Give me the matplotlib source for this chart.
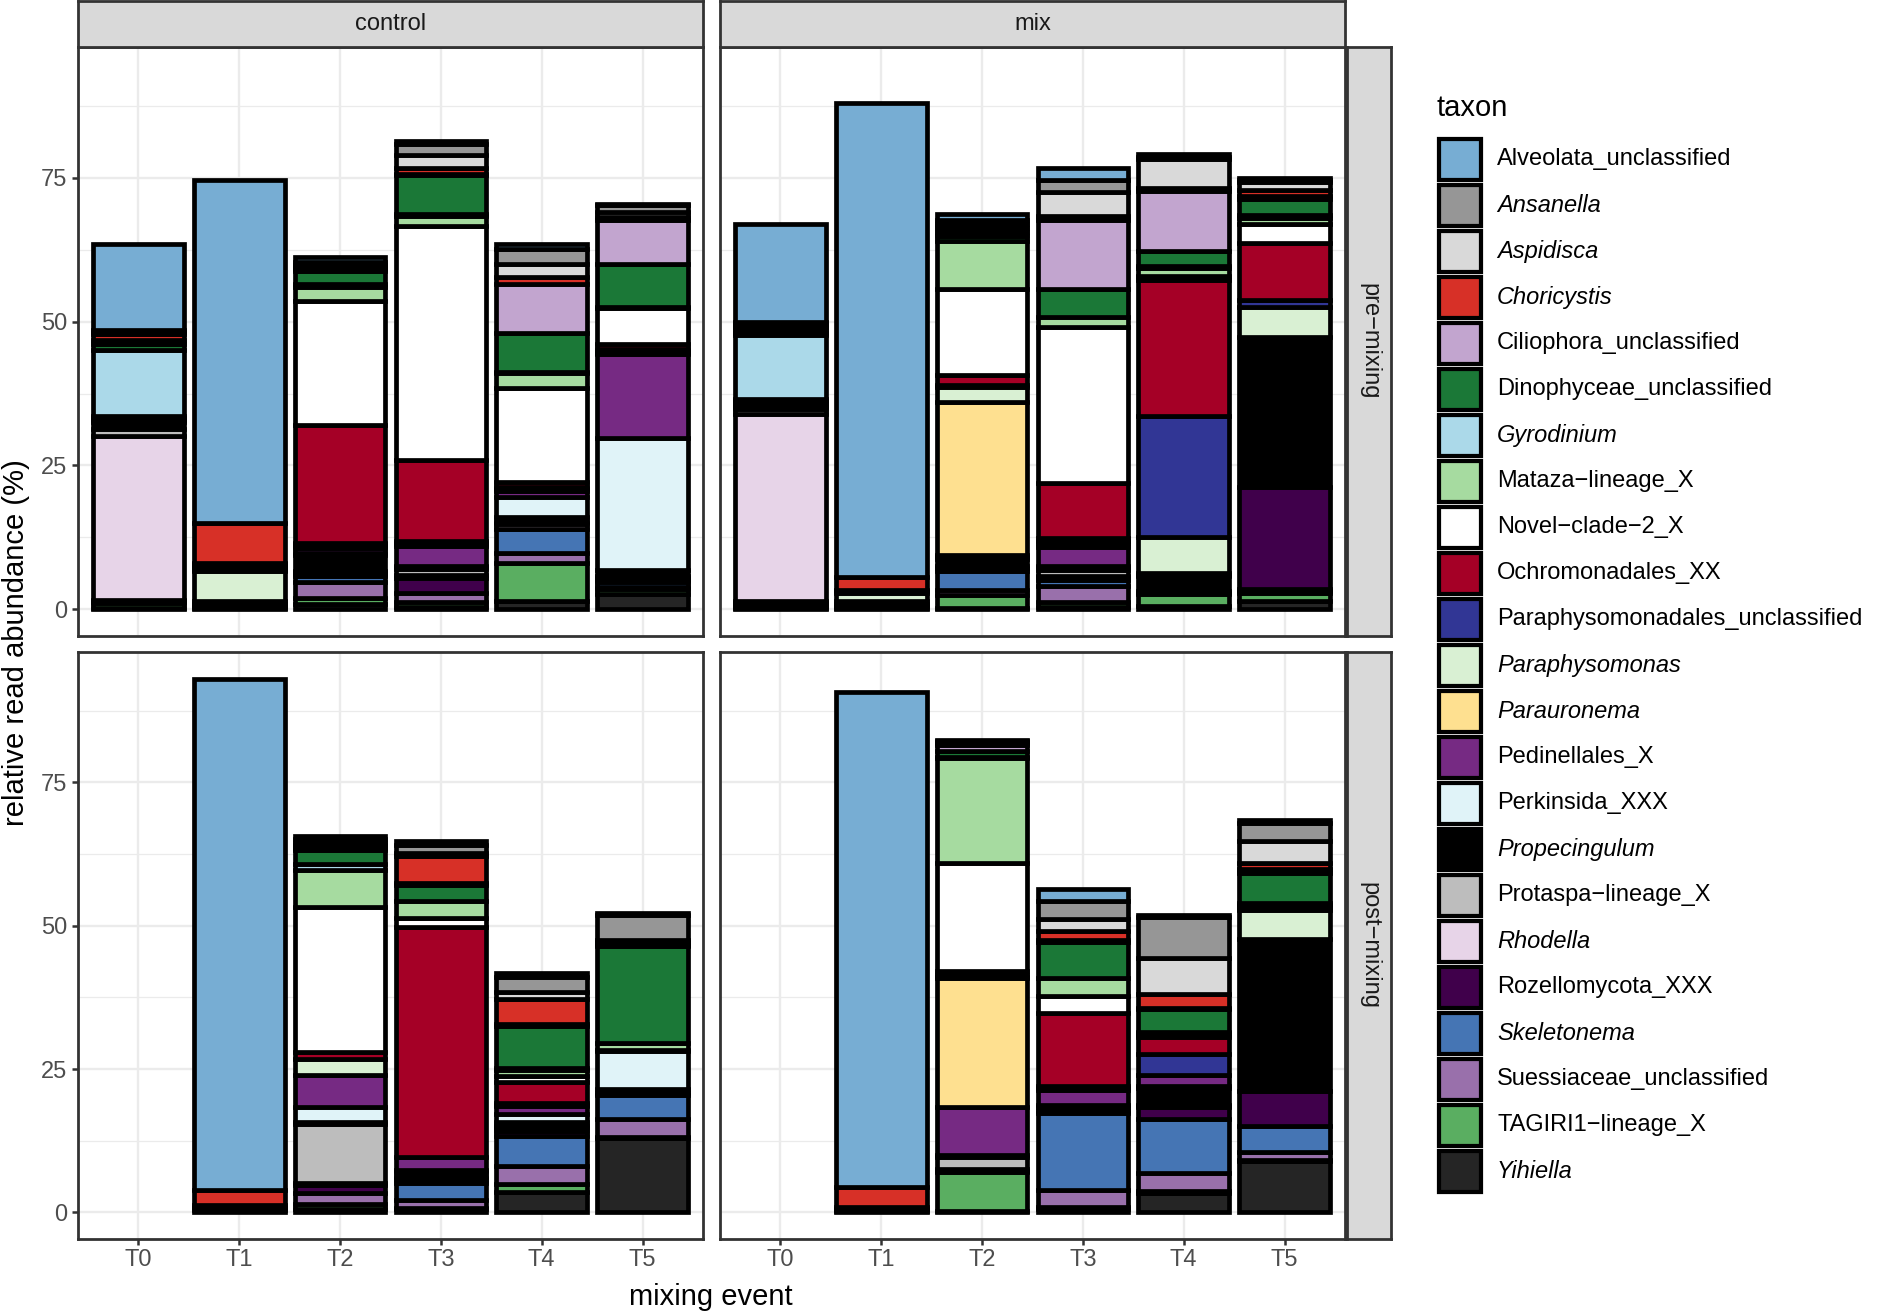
import numpy as np
import matplotlib
matplotlib.use('Agg')
import matplotlib.pyplot as plt
from matplotlib.patches import Rectangle

plt.rcParams['font.family'] = ['Liberation Sans', 'DejaVu Sans']

# categories
times = ['T0', 'T1', 'T2', 'T3', 'T4', 'T5']
treatments = ['control', 'mix']
phases = ['pre\u2212mixing', 'post\u2212mixing']

taxa = ['Alveolata_unclassified', 'Ansanella', 'Aspidisca', 'Choricystis',
        'Ciliophora_unclassified', 'Dinophyceae_unclassified', 'Gyrodinium',
        'Mataza\u2212lineage_X', 'Novel\u2212clade\u22122_X', 'Ochromonadales_XX',
        'Paraphysomonadales_unclassified', 'Paraphysomonas', 'Parauronema',
        'Pedinellales_X', 'Perkinsida_XXX', 'Propecingulum',
        'Protaspa\u2212lineage_X', 'Rhodella', 'Rozellomycota_XXX',
        'Skeletonema', 'Suessiaceae_unclassified', 'TAGIRI1\u2212lineage_X',
        'Yihiella']
italic_taxa = ['Ansanella', 'Aspidisca', 'Choricystis', 'Gyrodinium',
               'Paraphysomonas', 'Parauronema', 'Propecingulum', 'Rhodella',
               'Skeletonema', 'Yihiella']
colors = ['#77add3', '#969696', '#d9d9d9', '#d73027', '#c2a5cf', '#1b7837',
          '#abd9e9', '#a6dba0', '#ffffff', '#a50026', '#313695', '#d9f0d3',
          '#fee090', '#762a83', '#e0f3f8', '#000000', '#bdbdbd', '#e7d4e8',
          '#40004b', '#4575b4', '#9970ab', '#5aae61', '#252525']

# relative read abundance (%), one row per mixing event, columns in taxa order
ctrl_pre = [
    [15.0, 0.3, 0.3, 1.1, 0.6, 1.1, 11.5, 0.4, 0.3, 0.4, 0, 0, 0, 0, 0, 1.2, 1.2, 28.5, 0.2, 0.2, 0.1, 0.9, 0.2],
    [59.7, 0, 0, 6.9, 0.3, 0.3, 0, 0.3, 0.3, 0.3, 0, 5.2, 0, 0, 0, 0.5, 0, 0.3, 0.3, 0, 0, 0, 0.3],
    [1.0, 0.4, 0.4, 0.3, 0.4, 2.2, 0.6, 2.4, 21.5, 20.5, 0.3, 0.3, 0.3, 1.0, 0.3, 2.7, 0.3, 0.2, 0.4, 1.0, 2.8, 1.1, 0.9],
    [0.5, 2.0, 2.1, 1.2, 0.1, 6.8, 0.3, 1.7, 40.8, 14.0, 0.3, 0.3, 0.3, 3.4, 0.3, 0.3, 1.1, 0.4, 2.7, 0, 1.5, 0.9, 0.4],
    [0.9, 2.5, 2.3, 1.3, 8.4, 6.8, 0.3, 2.6, 16.2, 1.0, 0.3, 0.3, 0, 1.0, 3.6, 0.9, 0.3, 0.9, 0, 4.2, 1.7, 6.5, 1.5],
    [0.3, 1.2, 0.8, 0.6, 7.5, 7.5, 0, 0.3, 6.2, 0.9, 0.3, 0.3, 0.3, 14.5, 22.9, 1.2, 0.3, 0.3, 0.3, 0.9, 0.3, 0.9, 2.7],
]
mix_pre = [
    [16.9, 0.5, 0.5, 0.5, 0.5, 0.4, 11.0, 0.4, 0.4, 0.4, 0, 0.3, 0, 0, 0, 0.2, 1.0, 32.5, 0.3, 0.3, 0.3, 0.2, 0.3],
    [82.5, 0, 0, 2.2, 0.3, 0.3, 0, 0, 0, 0, 0, 1.4, 0, 0, 0, 0.5, 0, 0, 0.3, 0.3, 0, 0, 0.3],
    [1.0, 0.7, 0.7, 0.7, 0.7, 0.8, 0, 8.4, 14.9, 1.8, 0.3, 2.6, 26.6, 0.4, 0.3, 1.3, 0.3, 0, 0.6, 3.3, 0.9, 2.1, 0.3],
    [2.1, 2.1, 4.2, 0.7, 12.0, 4.9, 0, 1.7, 27.1, 9.7, 0.4, 0.4, 0.6, 3.3, 0.3, 0.5, 1.0, 0.2, 0.5, 1.0, 2.8, 0.9, 0.4],
    [0.4, 0.5, 5.0, 0.5, 10.4, 2.7, 0.3, 1.4, 0.6, 23.7, 21.1, 6.2, 0, 0.3, 0.3, 2.5, 0, 0, 0.3, 0, 0.3, 2.0, 0.6],
    [0.3, 0.4, 1.4, 1.1, 0.4, 2.9, 0.4, 1.2, 3.2, 9.9, 1.3, 5.2, 0, 0, 0, 26.1, 0, 0, 17.6, 0.4, 0.4, 1.4, 1.4],
]
ctrl_post = [
    [0] * 23,
    [89.2, 0, 0, 2.7, 0, 0, 0, 0, 0, 0, 0, 0, 0, 0, 0, 0.4, 0, 0, 0.4, 0, 0, 0, 0.4],
    [0.5, 0.6, 0.5, 0.5, 0.3, 2.5, 1.0, 6.5, 25.3, 1.2, 0, 2.7, 0, 5.6, 2.7, 0.3, 10.2, 0.4, 1.5, 0, 1.8, 1.0, 0.5],
    [0.6, 1.4, 0.6, 4.7, 0.3, 2.7, 0, 3.1, 1.6, 40.1, 0, 0, 0, 2.3, 0.3, 0.8, 0.3, 0, 0.8, 2.9, 1.4, 0.3, 0.5],
    [0.6, 2.7, 1.2, 4.4, 0.3, 7.4, 0.3, 1.0, 1.0, 3.7, 0.3, 0.3, 0, 1.3, 1.5, 0.6, 0.3, 0.7, 0.7, 5.4, 3.0, 1.5, 3.5],
    [0.3, 4.4, 0.4, 0.4, 0.3, 16.8, 0.1, 1.1, 0.3, 0, 0, 0, 0, 0, 6.6, 0.6, 0, 0, 0.4, 4.3, 3.0, 0.3, 12.9],
]
mix_post = [
    [0] * 23,
    [86.2, 0, 0, 3.5, 0, 0, 0, 0, 0, 0, 0, 0, 0, 0, 0, 0.4, 0, 0, 0.3, 0, 0, 0, 0.3],
    [0.2, 0.2, 0.2, 0.3, 1.0, 1.0, 0.3, 18.3, 18.8, 0.7, 0.3, 0.3, 22.5, 8.3, 0, 0.4, 2.1, 0, 0.3, 0, 0.2, 6.7, 0.3],
    [2.0, 3.2, 2.1, 1.6, 0.3, 6.4, 0, 3.1, 3.0, 12.7, 0.3, 0.3, 0, 2.7, 0.3, 0.8, 0, 0, 0.3, 13.4, 2.9, 0.5, 0.5],
    [0.3, 7.2, 6.2, 2.4, 0.3, 3.9, 0.3, 0.3, 0.3, 2.9, 3.8, 0, 0, 1.9, 0.3, 3.0, 0.2, 0.2, 2.1, 9.4, 3.0, 0.4, 3.4],
    [0.4, 3.2, 3.9, 1.0, 0.7, 5.2, 0.4, 0.4, 0.4, 0, 0, 5.1, 0, 0, 0, 26.6, 0, 0, 6.1, 4.4, 1.4, 0.3, 8.9],
]

W, H = 1892, 1312
fig = plt.figure(figsize=(W / 100, H / 100), dpi=100)


def box(x0, y0, x1, y1):
    # pixel box (top-left origin) -> figure fraction
    return [x0 / W, 1 - y1 / H, (x1 - x0) / W, (y1 - y0) / H]


col_x = [(78, 703), (720, 1345)]
row_y = [(47, 636), (652, 1239)]
panels = [[ctrl_pre, mix_pre], [ctrl_post, mix_post]]

ymax = max(max(sum(r) for r in p) for row in panels for p in row)
ylim = (-0.05 * ymax, 1.05 * ymax)
edge_lw = 3.4


def draw_bars(ax, data):
    data = np.array(data, dtype=float)
    x = np.arange(len(times))
    bottom = np.zeros(len(times))
    # first taxon ends up on top of the stack
    for k in range(len(taxa) - 1, -1, -1):
        vals = data[:, k]
        keep = vals > 0
        ax.bar(x[keep], vals[keep], bottom=bottom[keep], width=0.9,
               color=colors[k], edgecolor='black', linewidth=edge_lw)
        bottom += vals


for r in range(2):
    for c in range(2):
        ax = fig.add_axes(box(col_x[c][0], row_y[r][0], col_x[c][1], row_y[r][1]))
        draw_bars(ax, panels[r][c])
        ax.set_xlim(-0.6, len(times) - 0.4)
        ax.set_ylim(*ylim)
        ax.set_xticks(range(len(times)))
        ax.set_xticklabels(times)
        ax.set_yticks([0, 25, 50, 75])
        ax.set_yticks([12.5, 37.5, 62.5, 87.5], minor=True)
        ax.set_axisbelow(True)
        ax.grid(True, which='major', color='#ebebeb', linewidth=1.7)
        ax.grid(True, which='minor', axis='y', color='#ebebeb', linewidth=0.9)
        ax.tick_params(which='minor', length=0)
        ax.tick_params(which='major', length=4.5, width=1.8, color='#333333',
                       labelsize=17, labelcolor='#4d4d4d', pad=3)
        for s in ax.spines.values():
            s.set_color('#333333')
            s.set_linewidth(2.0)
        if r == 0:
            ax.tick_params(axis='x', length=0, labelbottom=False)
        if c == 1:
            ax.tick_params(axis='y', length=0, labelleft=False)

# strips
for c in range(2):
    st = fig.add_axes(box(col_x[c][0], 1, col_x[c][1], 47))
    st.set_facecolor('#d9d9d9')
    st.set_xticks([])
    st.set_yticks([])
    for s in st.spines.values():
        s.set_color('#333333')
        s.set_linewidth(2.0)
    st.text(0.5, 0.5, treatments[c], ha='center', va='center', fontsize=17,
            color='#1a1a1a', transform=st.transAxes)
for r in range(2):
    st = fig.add_axes(box(1347, row_y[r][0], 1391, row_y[r][1]))
    st.set_facecolor('#d9d9d9')
    st.set_xticks([])
    st.set_yticks([])
    for s in st.spines.values():
        s.set_color('#333333')
        s.set_linewidth(2.0)
    st.text(0.5, 0.5, phases[r], ha='center', va='center', fontsize=17,
            rotation=270, color='#1a1a1a', transform=st.transAxes)

# axis titles
fig.text(711 / W, 1 - 1297 / H, 'mixing event', ha='center', va='center', fontsize=21)
fig.text(16 / W, 1 - 643 / H, 'relative read abundance (%)', ha='center', va='center',
         fontsize=21, rotation=90)

# legend (drawn in pixel coordinates)
lg = fig.add_axes([0, 0, 1, 1])
lg.set_xlim(0, W)
lg.set_ylim(H, 0)
lg.axis('off')
lg.patch.set_alpha(0)
key_top, key_size, key_x = 136.5, 46, 1437
key_lw_px = 4.2
lg.text(1436, 108, 'taxon', ha='left', va='center', fontsize=21)
for k, name in enumerate(taxa):
    y0 = key_top + k * key_size
    inset = key_lw_px / 2
    lg.add_patch(Rectangle((key_x + inset, y0 + inset), key_size - 2 * inset,
                           key_size - 2 * inset, facecolor=colors[k],
                           edgecolor='black', linewidth=key_lw_px * 0.72))
    lg.text(1497, y0 + key_size / 2, name, ha='left', va='center', fontsize=17,
            style='italic' if name in italic_taxa else 'normal')

fig.savefig('out.png', dpi=100)
